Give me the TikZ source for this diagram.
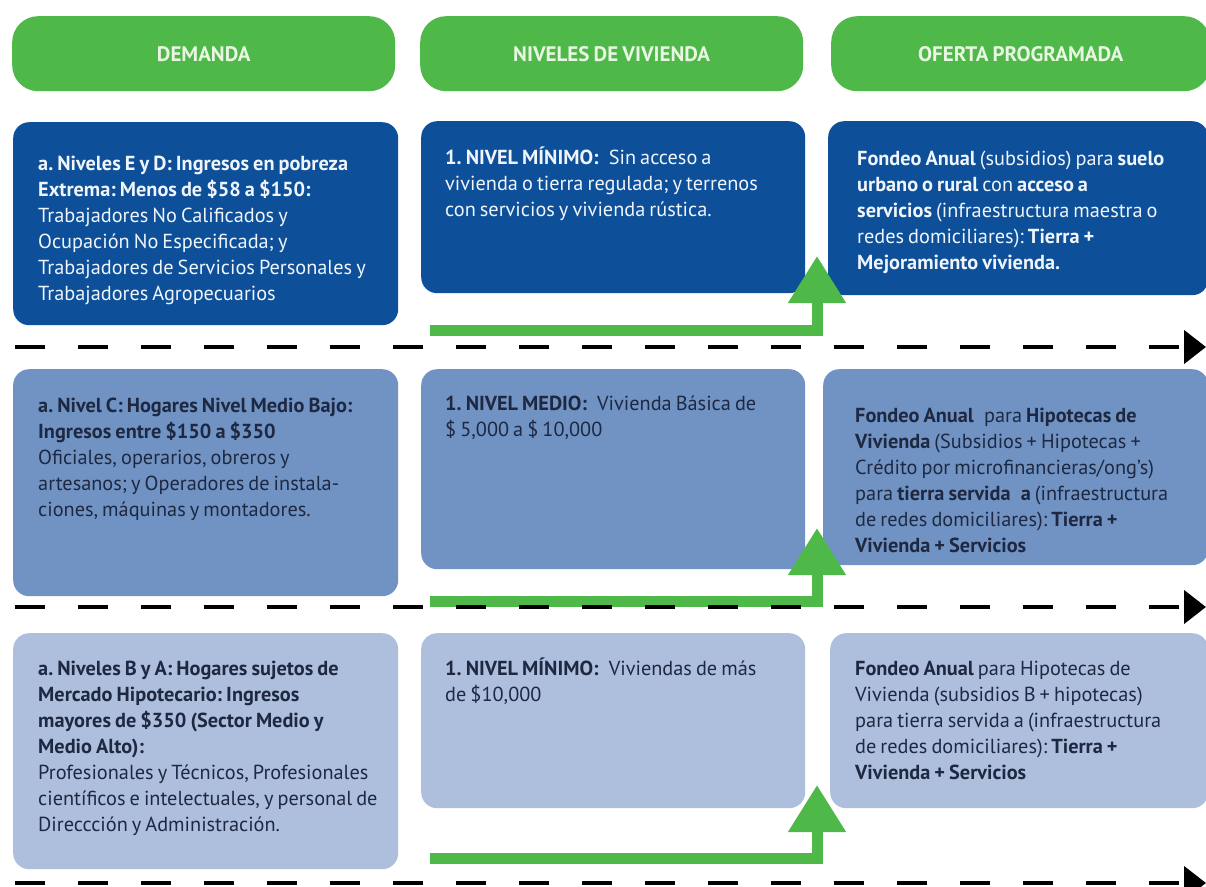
\documentclass[tikz,border=0pt]{standalone}
\usepackage{fontspec}
\setmainfont{PT Sans}
\usetikzlibrary{arrows.meta}
\definecolor{hgreen}{RGB}{78,184,72}
\definecolor{htext}{RGB}{232,246,226}
\definecolor{dblue}{RGB}{13,79,152}
\definecolor{dtext}{RGB}{240,245,252}
\definecolor{mblue}{RGB}{112,147,196}
\definecolor{lblue}{RGB}{174,191,221}
\definecolor{ntext}{RGB}{30,40,65}
\newcommand{\bodyfont}{\fontsize{20.3}{26}\selectfont}
\newcommand{\tightspace}{\raggedright\frenchspacing\spaceskip=0.2em\relax\xspaceskip=0.2em\relax}
\begin{document}
\begin{tikzpicture}[x=1pt,y=-1pt,
  pill/.style={fill=hgreen, rounded corners=26pt, inner sep=0pt, anchor=north west},
  htxt/.style={text=htext, font=\fontsize{21}{24}\selectfont\bfseries, inner sep=0pt},
  boxbase/.style={rounded corners=16pt, inner sep=0pt, anchor=north west},
  boxd/.style={boxbase, fill=dblue},
  boxm/.style={boxbase, fill=mblue},
  boxl/.style={boxbase, fill=lblue},
  txt/.style={anchor=base west, inner sep=0pt, text width=390pt, font=\bodyfont, execute at begin node=\tightspace},
  txtd/.style={txt, text=dtext},
  txtn/.style={txt, text=ntext},
  garrow/.style={draw=hgreen, line width=11pt, line join=miter, -{Triangle[width=55pt,length=47pt]}},
  dline/.style={draw=black, line width=4.5pt, dash pattern=on 30pt off 33pt, -{Triangle[width=33pt,length=22pt]}}
]
\useasboundingbox (0,0) rectangle (1206,886);
\clip (0,0) rectangle (1206,886);
\fill[white] (0,0) rectangle (1206,886);

% headers
\node[pill, minimum width=383pt, minimum height=75pt] (p1) at (12,16) {};
\node[pill, minimum width=383pt, minimum height=75pt] (p2) at (420,16) {};
\node[pill, minimum width=379pt, minimum height=75pt] (p3) at (831,16) {};
\node[htxt] (h1) at (p1.center) {DEMANDA};
\node[htxt] (h2) at (p2.center) {NIVELES\hspace{0.2em}DE\hspace{0.2em}VIVIENDA};
\node[htxt] (h3) at (p3.center) {OFERTA\hspace{0.2em}PROGRAMADA};

% row 1
\node[boxd, minimum width=385pt, minimum height=203pt] (d1) at (13,122) {};
\node[boxd, minimum width=384pt, minimum height=172pt] (n1) at (421,121) {};
\node[boxd, minimum width=380pt, minimum height=174pt] (o1) at (828,121) {};
\node[txtd] (td1) at (38,170) {\textbf{a. Niveles E y D: Ingresos en pobreza}\\
\textbf{Extrema: Menos de \$58 a \$150:}\\
Trabajadores No Calificados y\\
Ocupación No Especificada; y\\
Trabajadores de Servicios Personales y\\
Trabajadores Agropecuarios};
\node[txtd] (tn1) at (445,164) {\textbf{1. NIVEL MÍNIMO:}\enspace Sin acceso a\\
vivienda o tierra regulada; y terrenos\\
con servicios y vivienda rústica.};
\node[txtd] (to1) at (857,165) {\textbf{Fondeo Anual} (subsidios) para \textbf{suelo}\\
\textbf{urbano o rural} con \textbf{acceso a}\\
\textbf{servicios} (infraestructura maestra o\\
redes domiciliares): \textbf{Tierra +}\\
\textbf{Mejoramiento vivienda.}};

% row 2
\node[boxm, minimum width=385pt, minimum height=227pt] (d2) at (13,369) {};
\node[boxm, minimum width=384pt, minimum height=200pt] (n2) at (421,369) {};
\node[boxm, minimum width=385pt, minimum height=196pt] (o2) at (823,369) {};
\node[txtn] (td2) at (38,412) {\textbf{a. Nivel C: Hogares Nivel Medio Bajo:}\\
\textbf{Ingresos entre \$150 a \$350}\\
Oficiales, operarios, obreros y\\
artesanos; y Operadores de instala-\\
ciones, máquinas y montadores.};
\node[txtn] (tn2) at (445,410) {\textbf{1. NIVEL MEDIO:}\enspace Vivienda Básica de\\
\$ 5,000 a \$ 10,000};
\node[txtn] (to2) at (855,422) {\textbf{Fondeo Anual}\enspace para \textbf{Hipotecas de}\\
\textbf{Vivienda} (Subsidios + Hipotecas +\\
Crédito por microfinancieras/ong's)\\
para \textbf{tierra servida\enspace a} (infraestructura\\
de redes domiciliares): \textbf{Tierra +}\\
\textbf{Vivienda + Servicios}};

% row 3
\node[boxl, minimum width=385pt, minimum height=236pt] (d3) at (13,633) {};
\node[boxl, minimum width=384pt, minimum height=175pt] (n3) at (421,633) {};
\node[boxl, minimum width=378pt, minimum height=175pt] (o3) at (830,633) {};
\node[txtn] (td3) at (38,675) {\textbf{a. Niveles B y A: Hogares sujetos de}\\
\textbf{Mercado Hipotecario: Ingresos}\\
\textbf{mayores de \$350 (Sector Medio y}\\
\textbf{Medio Alto):}\\
Profesionales y Técnicos, Profesionales\\
científicos e intelectuales, y personal de\\
Direccción y Administración.};
\node[txtn] (tn3) at (445,675) {\textbf{1. NIVEL MÍNIMO:}\enspace Viviendas de más\\
de \$10,000};
\node[txtn] (to3) at (855,675) {\textbf{Fondeo Anual} para Hipotecas de\\
Vivienda (subsidios B + hipotecas)\\
para tierra servida a (infraestructura\\
de redes domiciliares): \textbf{Tierra +}\\
\textbf{Vivienda + Servicios}};

% green arrows
\coordinate (g1s) at (430,330); \coordinate (g1c) at (817,330); \coordinate (g1t) at (817,256);
\coordinate (g2s) at (430,601); \coordinate (g2c) at (817,601); \coordinate (g2t) at (817,528);
\coordinate (g3s) at (430,858); \coordinate (g3c) at (817,858); \coordinate (g3t) at (817,785);
\draw[garrow] (g1s) -- (g1c) -- (g1t);
\draw[garrow] (g2s) -- (g2c) -- (g2t);
\draw[garrow] (g3s) -- (g3c) -- (g3t);

% dashed separators
\coordinate (s1a) at (15,347); \coordinate (s1b) at (1206,347);
\coordinate (s2a) at (15,607); \coordinate (s2b) at (1206,607);
\coordinate (s3a) at (15,883); \coordinate (s3b) at (1206,883);
\draw[dline] (s1a) -- (s1b);
\draw[dline] (s2a) -- (s2b);
\draw[dline] (s3a) -- (s3b);
\end{tikzpicture}
\end{document}
